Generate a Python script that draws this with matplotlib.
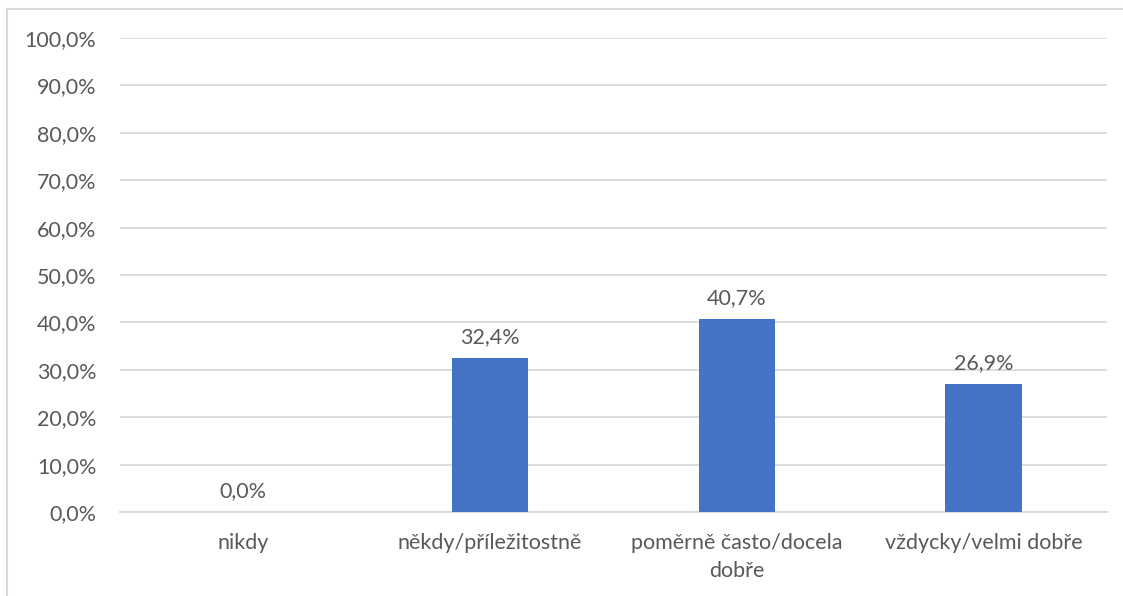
import matplotlib
matplotlib.use("Agg")
import matplotlib.pyplot as plt
from matplotlib.patches import Rectangle

categories = ["nikdy", "někdy/příležitostně", "poměrně často/docela\ndobře", "vždycky/velmi dobře"]
values = [0.0, 32.4, 40.7, 26.9]
yticks = [0, 10, 20, 30, 40, 50, 60, 70, 80, 90, 100]

plt.rcParams['font.family'] = ['Lato', 'DejaVu Sans']
TXT = '#595959'
FS = 15.5

fig = plt.figure(figsize=(11.23, 5.96), dpi=100)
ax = fig.add_axes([120/1123, 1-512/596, (1107-120)/1123, (512-38)/596])

x = list(range(len(categories)))
ax.bar(x, values, width=0.31, color='#4472C4', zorder=3)
for xi, v in zip(x, values):
    ax.annotate(f"{v:.1f}%".replace('.', ','), (xi, v), xytext=(0, 8), textcoords='offset points',
                ha='center', va='bottom', fontsize=FS, color=TXT)

ax.set_xlim(-0.5, 3.5)
ax.set_ylim(0, 100)
ax.set_yticks(yticks)
ax.set_yticklabels([f"{t:.1f}%".replace('.', ',') for t in yticks], fontsize=FS, color=TXT)
ax.set_xticks(x)
ax.set_xticklabels(categories, fontsize=FS, color=TXT, linespacing=1.5)
ax.tick_params(axis='both', length=0)
ax.tick_params(axis='y', pad=17)
ax.tick_params(axis='x', pad=15)
ax.grid(axis='y', color='#D9D9D9', linewidth=1.3, zorder=0)
for s in ['top', 'right', 'left']:
    ax.spines[s].set_visible(False)
ax.spines['bottom'].set_color('#D9D9D9')
ax.spines['bottom'].set_linewidth(1.3)

fig.patches.append(Rectangle((7/1123, -0.1), 1.2, 1 - 9/596 + 0.1, transform=fig.transFigure,
                             fill=False, edgecolor='#D9D9D9', linewidth=1.5))

fig.savefig('out.png', dpi=100)
